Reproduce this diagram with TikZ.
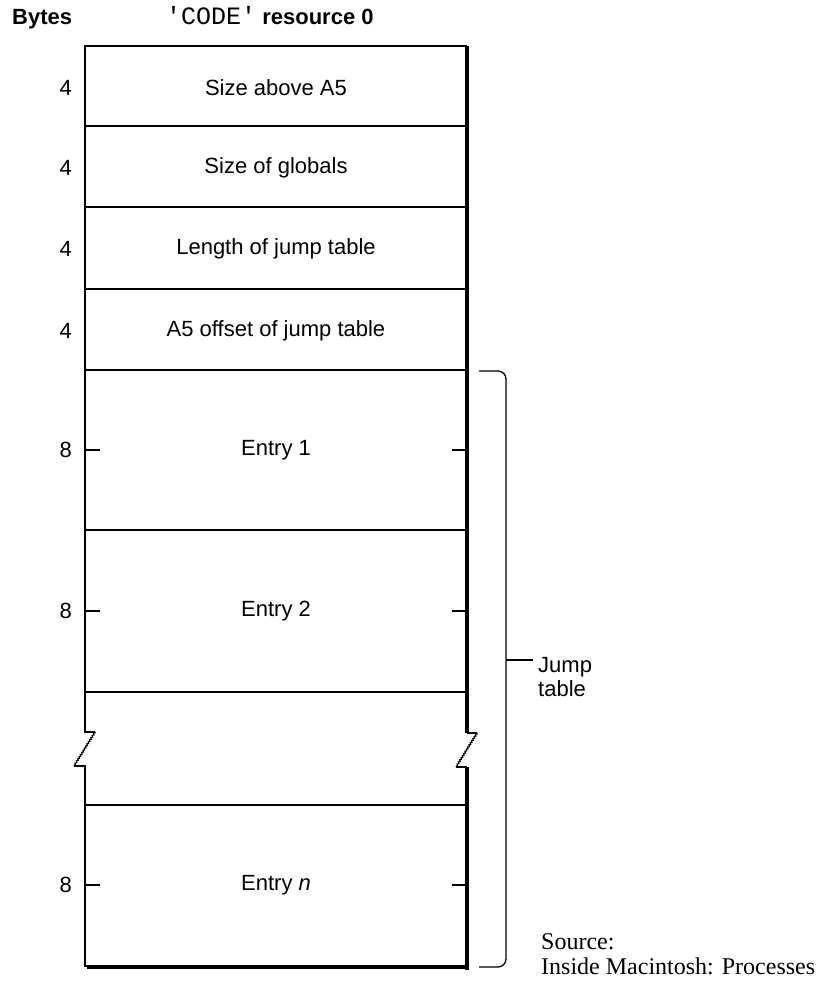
\documentclass[tikz,border=0pt]{standalone}
\usepackage{fontspec}
\setmainfont{Liberation Sans}
\setmonofont{Liberation Mono}
\newfontfamily\srcfont{Liberation Serif}
\usetikzlibrary{decorations.pathmorphing}

\begin{document}
\begin{tikzpicture}[
  x=1pt,y=-1pt,
  field/.style={font=\fontsize{22}{24}\selectfont,inner sep=0pt},
  bytes/.style={font=\fontsize{22}{24}\selectfont,inner sep=0pt,anchor=east},
  rule/.style={line width=1.3pt},
  heavy/.style={line width=4.5pt},
  ledge/.style={line width=3.5pt},
  tear/.style={line width=1.1pt,decorate,decoration={zigzag,segment length=2.5pt,amplitude=0.7pt}},
  brace/.style={line width=1.3pt,rounded corners=8pt},
  src/.style={font=\srcfont\fontsize{24}{25}\selectfont,inner sep=0pt,anchor=base west}
]
\useasboundingbox (0,0) rectangle (815,983);

\def\xl{85}
\def\xr{467}
\def\xm{276}
\def\yt{46}
\def\yb{966}

% header
\node[font=\bfseries\fontsize{22}{24}\selectfont,inner sep=0pt,anchor=base west] (hbytes) at (12,24) {Bytes};
\node[font=\fontsize{22}{24}\selectfont,inner sep=0pt,anchor=base west] (hcode) at (166,24)
  {{\fontsize{25}{24}\selectfont\ttfamily 'CODE'} \textbf{resource 0}};

% outline with the torn part
\draw[rule] (\xr,\yt) -- (\xl,\yt) -- (\xl,732) -- (95,732);
\draw[tear] (95,732) -- (74,766);
\draw[rule] (74,766) -- (\xl,766) -- (\xl,\yb) -- (\xr,\yb);
\draw[heavy] (\xr,\yt) -- (\xr,733);
\draw[rule] (\xr,733) -- (477,733);
\draw[tear] (477,733) -- (456,767);
\draw[rule] (456,767) -- (\xr,767);
\draw[heavy] (\xr,767) -- (\xr,969.5);
\draw[ledge] (87,967.5) -- (\xr,967.5);

% dividers
\foreach \y in {126,207,289,370,530,692,805}{
  \draw[rule] (\xl,\y) -- (\xr,\y);
}

% fields
\foreach \i/\y/\t/\b in {1/88/Size above A5/4,2/168/Size of globals/4,
  3/249/Length of jump table/4,4/331/A5 offset of jump table/4}{
  \node[field] (f\i) at (\xm,\y) {\t};
  \node[bytes] (b\i) at (72,\y) {\b};
}

% jump table entries
\foreach \i/\y/\t in {5/450/Entry 1,6/611/Entry 2,7/885/Entry \textit{n}}{
  \node[field] (f\i) at (\xm,\y) {\t};
  \node[bytes] (b\i) at (72,\y) {8};
  \draw[rule] (\xl,\y) -- ++(15,0);
  \draw[rule] (\xr,\y) -- ++(-15,0);
}

% brace
\coordinate (bt) at (479,371);
\coordinate (bb) at (479,967);
\coordinate (bm) at (506,660);
\draw[brace] (bt) -| (bm) |- (bb);
\node[font=\fontsize{22}{24}\selectfont,inner sep=0pt,anchor=west,align=left] (jt) at (538,677) {Jump\\table};
\draw[rule] (bm) -- ([xshift=-5pt]jt.west |- bm);

% source
\node[src] (src1) at (541,949) {Source:};
\node[src] (src2) at (541,974) {Inside Macintosh: Processes};
\end{tikzpicture}
\end{document}
